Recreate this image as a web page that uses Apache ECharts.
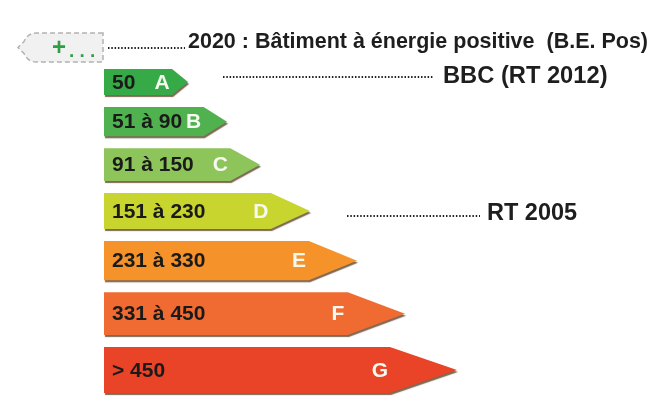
<!DOCTYPE html>
<html><head><meta charset="utf-8">
<script src="https://cdn.jsdelivr.net/npm/echarts@6/dist/echarts.min.js"></script>
<style>html,body{margin:0;padding:0;background:#fff}#c{width:653px;height:396px}</style>
</head><body><div id="c"></div>
<script>
// ---- data ----
const classes = ['A', 'B', 'C', 'D', 'E', 'F', 'G'];
const ranges = ['50', '51 à 90', '91 à 150', '151 à 230', '231 à 330', '331 à 450', '> 450'];
const barLength = [84, 123, 156, 206, 253, 301, 353];
const noteTexts = ['2020 : Bâtiment à énergie positive  (B.E. Pos)', 'BBC (RT 2012)', 'RT 2005'];
const noteRows = [-1, 0, 3];

// ---- styles / layout ----
const colors = ['#37aa48', '#4fb24f', '#8dc55a', '#c8d52f', '#f5932a', '#ef6b31', '#e94427'];
const FONT = '"Liberation Sans", Arial, sans-serif';
const L = { firstTop: 69, h0: 26, dh: 10 / 3, gap: 12, arrow: 0.19, labelPad: 8, letterBack: 10 };
function thick(i) { return L.h0 + i * L.dh; }
function rowTop(i) { let t = L.firstTop; for (let j = 0; j < i; j++) t += thick(j) + L.gap; return t; }
// note layout in axis units (x from bar origin, y downward)
const noteLayout = [
  { from: 4, to: 81, textX: 84, yText: 42, yLeader: 48, size: 21.5 },
  { from: 119, to: 329, textX: 339, yText: 76, yLeader: 77, size: 23.7 },
  { from: 243, to: 376, textX: 383, yText: 214, yLeader: 216, size: 23.5 }
];

const chart = echarts.init(document.getElementById('c'), null, { renderer: 'canvas' });
chart.setOption({
  backgroundColor: '#ffffff',
  animation: false,
  grid: { left: 104, right: 0, top: 0, bottom: 0 },
  xAxis: { type: 'value', min: 0, max: 549, show: false },
  yAxis: { type: 'value', min: 0, max: 396, inverse: true, show: false },
  series: [
    {
      type: 'custom',
      name: 'classes',
      data: classes.map((c, i) => [i, barLength[i]]),
      renderItem: function (params, api) {
        const i = params.dataIndex;
        const len = api.value(1);
        const top = rowTop(i), h = thick(i), bot = top + h, mid = top + h / 2;
        const p0 = api.coord([0, top]);
        const pb = api.coord([len * (1 - L.arrow), bot]);
        const pt = api.coord([len, mid]);
        const x0 = p0[0], y0 = p0[1], xb = pb[0], y1 = pb[1], xt = pt[0], ym = pt[1];
        return {
          type: 'group',
          children: [
            {
              type: 'polygon',
              shape: { points: [[x0, y0], [xb, y0], [xt, ym], [xb, y1], [x0, y1]] },
              style: { fill: colors[i], shadowColor: 'rgba(70,40,10,0.7)', shadowOffsetX: 1, shadowOffsetY: 2, shadowBlur: 1 }
            },
            {
              type: 'text', x: x0 + L.labelPad, y: ym + 1,
              style: { text: ranges[i], font: 'bold 21px ' + FONT, fill: '#1a1a1a', align: 'left', verticalAlign: 'middle' }
            },
            {
              type: 'text', x: xb - L.letterBack, y: ym + 1,
              style: { text: classes[i], font: 'bold 21px ' + FONT, fill: '#f6f9f0', align: 'center', verticalAlign: 'middle' }
            }
          ]
        };
      }
    },
    {
      type: 'custom',
      name: 'notes',
      data: noteTexts.map((t, i) => [i, noteRows[i]]),
      renderItem: function (params, api) {
        const i = params.dataIndex;
        const n = noteLayout[i];
        const a = api.coord([n.from, n.yLeader]);
        const b = api.coord([n.to, n.yLeader]);
        const t = api.coord([n.textX, n.yText]);
        const children = [
          { type: 'line', shape: { x1: a[0], y1: a[1], x2: b[0], y2: b[1] },
            style: { stroke: '#222', lineWidth: 2, lineDash: [1.5, 1.8] } },
          { type: 'text', x: t[0], y: t[1],
            style: { text: noteTexts[i], font: 'bold ' + n.size + 'px ' + FONT, fill: '#1e1e1e', align: 'left', verticalAlign: 'middle' } }
        ];
        if (api.value(1) < 0) {
          const s0 = api.coord([-86, 33]), s1 = api.coord([-1, 62]);
          const xl = s0[0], yt = s0[1], xr = s1[0], yb = s1[1], ymid = (yt + yb) / 2;
          children.push({
            type: 'path',
            shape: { pathData: 'M' + xr + ' ' + yt + ' L' + (xl + 18) + ' ' + yt + ' Q' + (xl + 10) + ' ' + yt + ' ' + (xl + 6) + ' ' + (ymid - 6) +
              ' L' + xl + ' ' + ymid + ' L' + (xl + 6) + ' ' + (ymid + 6) + ' Q' + (xl + 10) + ' ' + yb + ' ' + (xl + 18) + ' ' + yb + ' L' + xr + ' ' + yb + ' Z' },
            style: { fill: '#f1f1f1', stroke: '#b3b3b3', lineWidth: 1.5, lineDash: [5, 3] }
          });
          children.push({ type: 'text', x: xl + 41, y: ymid + 1,
            style: { text: '+', font: 'bold 24px ' + FONT, fill: '#2f9e45', align: 'center', verticalAlign: 'middle' } });
          children.push({ type: 'text', x: xl + 51, y: ymid + 4,
            style: { text: '. . .', font: 'bold 19px ' + FONT, fill: '#2f9e45', align: 'left', verticalAlign: 'middle' } });
        }
        return { type: 'group', children: children };
      }
    }
  ]
});
</script></body></html>
